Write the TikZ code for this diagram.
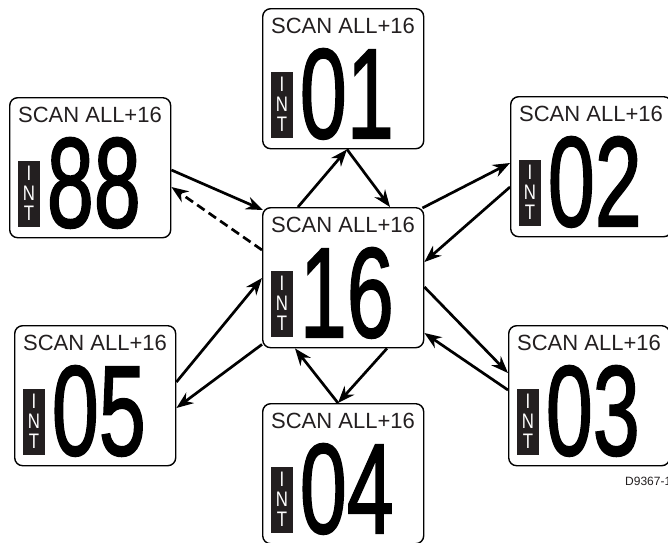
\documentclass[tikz,border=0pt]{standalone}
\usepackage{fontspec}
\setmainfont{Liberation Sans}
\newfontfamily\numfont[FakeBold=1.6]{Liberation Sans}
\usetikzlibrary{calc,arrows.meta}
\definecolor{ink}{HTML}{231F20}
\newcommand\mkpanel[4]{%
  \node[panelbox] (#1) at (#2,#3) {};
  \node[scanlbl] (#1t) at ($(#1.north west)+(81,25)$) {SCAN ALL+16};
  \node[badgebox] (#1b) at ($(#1.north west)+(9,64)$) {};
  \node[badgelt] (#1i) at ($(#1.north west)+(20,83)$) {I};
  \node[badgelt] (#1m) at ($(#1.north west)+(20,103)$) {N};
  \node[badgelt] (#1k) at ($(#1.north west)+(20,123)$) {T};
  \node[bignum] (#1n) at ($(#1.north west)+(132,130)$) {\scalebox{0.66}[1]{#4}};
}
\begin{document}
\begin{tikzpicture}[x=1pt,y=-1pt,
  panelbox/.style={draw=black, line width=1.4pt, rounded corners=8pt, fill=white,
    minimum width=161pt, minimum height=140pt, inner sep=0pt, anchor=north west},
  scanlbl/.style={anchor=base, inner sep=0pt, text=ink, font=\fontsize{22}{22}\selectfont},
  badgebox/.style={fill=ink, minimum width=22pt, minimum height=66pt, inner sep=0pt, anchor=north west},
  badgelt/.style={anchor=base, inner sep=0pt, text=white, font=\fontsize{21}{21}\selectfont, xscale=0.8},
  bignum/.style={anchor=base east, inner sep=0pt, text=black, font=\numfont\fontsize{128}{128}\selectfont},
  arr/.style={line width=2.7pt, -{Stealth[length=17pt,width=13pt]}},
  dasharr/.style={arr, dash pattern=on 9pt off 5pt}]
\useasboundingbox[fill=white] (0,0) rectangle (668,542);

\mkpanel{b01}{262}{8}{01}
\mkpanel{b88}{9}{97}{88}
\mkpanel{b16}{262}{207}{16}
\mkpanel{b02}{510}{96}{02}
\mkpanel{b03}{508}{325}{03}
\mkpanel{b05}{14}{325}{05}
\mkpanel{b04}{262}{403}{04}

\node[anchor=base west, inner sep=0pt, text=ink, font=\fontsize{12}{12}\selectfont] (code) at (625,485) {D9367-1};

\draw[arr] ($(b88.north east)+(0,73)$) -- ($(b16.north west)+(1,3)$);
\draw[dasharr] ($(b16.north west)+(0,43)$) -- ($(b88.north east)+(0,90)$);
\draw[arr] ($(b16.north west)+(36,0)$) -- ($(b01.south west)+(85,0)$);
\draw[arr] ($(b01.south west)+(85,0)$) -- ($(b16.north west)+(128,0)$);
\draw[arr] ($(b16.north east)+(-2,1)$) -- ($(b02.north west)+(0,67)$);
\draw[arr] ($(b02.north west)+(0,91)$) -- ($(b16.north east)+(0,55)$);
\draw[arr] ($(b16.north east)+(0,80)$) -- ($(b03.north west)+(0,48)$);
\draw[arr] ($(b03.north west)+(0,65)$) -- ($(b16.north east)+(0,126)$);
\draw[arr] ($(b16.south west)+(125,0)$) -- ($(b04.north west)+(76,0)$);
\draw[arr] ($(b04.north west)+(76,0)$) -- ($(b16.south west)+(33,0)$);
\draw[arr] ($(b05.north east)+(0,57)$) -- ($(b16.north west)+(0,71)$);
\draw[arr] ($(b16.south west)+(0,-4)$) -- ($(b05.north east)+(0,83)$);
\end{tikzpicture}
\end{document}
